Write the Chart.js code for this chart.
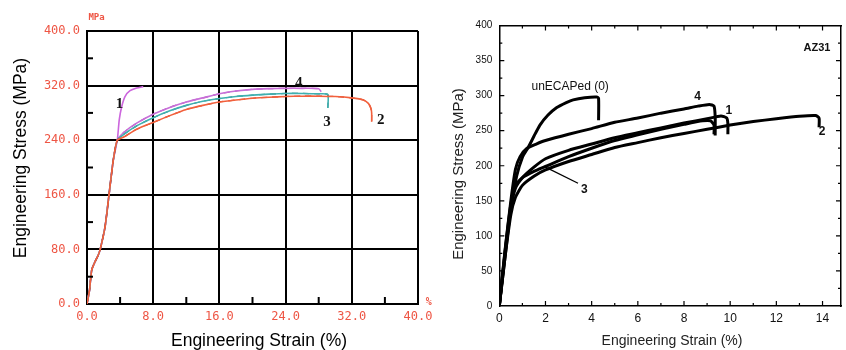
<!DOCTYPE html>
<html><head><meta charset="utf-8">
<script src="https://cdn.jsdelivr.net/npm/chart.js@4"></script>
<style>
html,body{margin:0;padding:0;background:#fff;width:846px;height:350px;overflow:hidden}
#wl{position:absolute;left:0;top:0;width:440px;height:350px}
#wr{position:absolute;left:440px;top:0;width:406px;height:350px}
</style></head><body>
<div id="wl"><canvas id="cl" width="440" height="350"></canvas></div>
<div id="wr"><canvas id="cr" width="406" height="350"></canvas></div>
<script>
// ---------- LEFT PANEL DATA (strain %, stress MPa) ----------
const leftXTicks = [0, 8, 16, 24, 32, 40];
const leftYTicks = [0, 80, 160, 240, 320, 400];
const leftC1Strain = [0, 0.3, 0.57, 0.97, 1.3, 1.57, 2.18, 2.66, 3.18, 3.66, 3.9, 4.19, 4.59, 5.2, 6.0, 6.8];
const leftC1Stress = [0, 20, 50, 62, 70, 79, 113, 160, 211, 240, 270, 289, 304, 312.5, 316.5, 318.5];
const leftC4Strain = [0, 0.3, 0.57, 0.97, 1.3, 1.57, 2.18, 2.66, 3.18, 3.66, 4.5, 6, 8, 10, 12, 14, 16, 18, 20, 22, 24, 26, 28, 28.3];
const leftC4Stress = [0, 20, 50, 62, 70, 79, 113, 160, 211, 240, 252, 265, 278, 288, 296, 302, 308, 312, 314.5, 315.5, 316, 316, 315.5, 311];
const leftC3Strain = [0, 0.3, 0.57, 0.97, 1.3, 1.57, 2.18, 2.66, 3.18, 3.66, 4.5, 6, 8, 10, 12, 14, 16, 18, 20, 22, 24, 26, 28, 29.1, 29.1];
const leftC3Stress = [0, 20, 50, 62, 70, 79, 113, 160, 211, 240, 249, 261, 273, 283, 291, 297, 301, 304, 306, 307.5, 308.5, 308.5, 308, 307, 287];
const leftC2Strain = [0, 0.3, 0.57, 0.97, 1.3, 1.57, 2.18, 2.66, 3.18, 3.66, 4.5, 6, 8, 10, 12, 14, 16, 18, 20, 22, 24, 26, 28, 30, 32, 33.4, 34, 34.3, 34.4, 34.4];
const leftC2Stress = [0, 20, 50, 62, 70, 79, 113, 160, 211, 240, 245, 256, 266, 276, 285, 291, 296, 299, 301.5, 303, 304, 304.5, 304.5, 304, 302, 299, 294, 287, 280, 267];

// ---------- RIGHT PANEL DATA (AZ31) ----------
const rightXTicks = [0, 2, 4, 6, 8, 10, 12, 14];
const rightYTicks = [0, 50, 100, 150, 200, 250, 300, 350, 400];
const r0Strain = [0, 0.25, 0.5, 0.75, 1.0, 1.25, 1.5, 1.76, 2.1, 2.49, 2.9, 3.2, 3.7, 4.22, 4.3, 4.3];
const r0Stress = [0, 70, 140, 185, 212, 226, 242, 258, 272, 283, 290, 294, 297, 298, 296, 265];
const r4Strain = [0, 0.25, 0.5, 0.7, 0.9, 1.2, 1.6, 2, 3, 4, 5, 6, 7, 8, 8.6, 9.1, 9.3, 9.35, 9.35];
const r4Stress = [0, 80, 150, 195, 213, 225, 231, 236, 245, 253, 262, 268, 275, 281, 285, 287.5, 285, 270, 243];
const r1Strain = [0, 0.25, 0.5, 0.7, 1.0, 1.5, 2, 3, 4, 5, 6, 7, 8, 9, 9.6, 9.85, 9.9, 9.9];
const r1Stress = [0, 75, 140, 168, 183, 198, 210, 222, 231, 240, 247, 254, 261, 267, 271, 268, 260, 245];
const r3Strain = [0, 0.25, 0.5, 0.7, 1.0, 1.5, 2, 3, 4, 5, 6, 7, 8, 8.8, 9.15, 9.3, 9.3];
const r3Stress = [0, 78, 145, 172, 183, 192, 199, 213, 225, 236, 244, 252, 259, 264, 264, 258, 245];
const r2Strain = [0, 0.25, 0.5, 0.7, 1.0, 1.5, 2, 3, 4, 5, 6, 7, 8, 9, 10, 11, 12, 13, 13.7, 13.85, 13.85];
const r2Stress = [0, 70, 130, 155, 172, 185, 194, 206, 216, 226, 233, 240, 246, 252, 258, 263, 267, 270.5, 271.5, 268, 255];

const pts = (xs, ys) => xs.map((x, i) => ({ x: x, y: ys[i] }));

const RED = '#ee5544';
const SANS = '"Liberation Sans", Arial, sans-serif';

function line(xs, ys, color, width, dash, tension) {
  return { data: pts(xs, ys), showLine: true, borderColor: color, borderWidth: width,
           borderDash: dash || [], pointRadius: 0, tension: tension || 0, fill: false };
}

function tickList(arr) { return function (scale) { scale.ticks = arr.map(v => ({ value: v })); }; }

// ---------- LEFT CHART ----------
const leftDecor = {
  id: 'leftDecor',
  afterDraw(chart) {
    const ctx = chart.ctx, xs = chart.scales.x, ys = chart.scales.y, a = chart.chartArea;
    ctx.save();
    ctx.strokeStyle = '#000'; ctx.lineWidth = 2;
    [4, 12, 20, 28, 36].forEach(v => { const px = xs.getPixelForValue(v); ctx.beginPath(); ctx.moveTo(px, a.bottom); ctx.lineTo(px, a.bottom - 7); ctx.stroke(); });
    [40, 120, 200, 280, 360].forEach(v => { const py = ys.getPixelForValue(v); ctx.beginPath(); ctx.moveTo(a.left, py); ctx.lineTo(a.left + 6, py); ctx.stroke(); });
    ctx.textAlign = 'center'; ctx.textBaseline = 'middle';
    ctx.fillStyle = '#111'; ctx.font = 'bold 15px "Liberation Serif", serif';
    [['1', 3.93, 293], ['4', 25.6, 323.8], ['3', 29.0, 266.7], ['2', 35.5, 269.6]].forEach(t => ctx.fillText(t[0], xs.getPixelForValue(t[1]), ys.getPixelForValue(t[2])));
    ctx.fillStyle = RED; ctx.font = 'bold 9px "DejaVu Sans Mono", monospace';
    ctx.fillText('MPa', xs.getPixelForValue(1.15), ys.getPixelForValue(419.8));
    ctx.font = 'bold 10px "DejaVu Sans Mono", monospace';
    ctx.fillText('%', xs.getPixelForValue(41.3), ys.getPixelForValue(2.9));
    ctx.fillStyle = '#000'; ctx.font = '17.5px ' + SANS;
    ctx.fillText('Engineering Strain (%)', 259, 341);
    ctx.translate(21, 158); ctx.rotate(-Math.PI / 2);
    ctx.fillText('Engineering Stress (MPa)', 0, 0);
    ctx.restore();
  }
};

new Chart(document.getElementById('cl'), {
  type: 'scatter',
  data: { datasets: [
    line(leftC2Strain, leftC2Stress, '#f2603c', 1.6, null, 0.2),
    line(leftC2Strain, leftC2Stress, '#c8301e', 1.2, [6, 5], 0.2),
    line(leftC3Strain, leftC3Stress, '#3fb0b0', 1.6, null, 0.2),
    line(leftC3Strain, leftC3Stress, '#25706a', 1.2, [6, 5], 0.2),
    line(leftC4Strain, leftC4Stress, '#c86fd8', 1.6, null, 0.2),
    line(leftC4Strain, leftC4Stress, '#9a3aa8', 1.2, [6, 5], 0.2),
    line(leftC1Strain, leftC1Stress, '#cc66dd', 1.6, null, 0.2)
  ] },
  options: {
    responsive: false, animation: false, devicePixelRatio: 1,
    layout: { padding: { left: 0, right: 22, top: 31, bottom: 0 } },
    plugins: { legend: { display: false }, tooltip: { enabled: false } },
    scales: {
      x: { type: 'linear', min: 0, max: 40, afterBuildTicks: tickList(leftXTicks),
           ticks: { color: RED, font: { family: '"DejaVu Sans Mono", monospace', size: 12 }, padding: 6, maxRotation: 0, autoSkip: false, callback: v => v.toFixed(1) },
           grid: { color: '#000', lineWidth: 2, drawTicks: false }, border: { color: '#000', width: 2 },
           afterFit(s) { s.height = 46; } },
      y: { type: 'linear', min: 0, max: 400, afterBuildTicks: tickList(leftYTicks),
           ticks: { color: RED, font: { family: '"DejaVu Sans Mono", monospace', size: 12 }, padding: 7, autoSkip: false, callback: v => v.toFixed(1) },
           grid: { color: '#000', lineWidth: 2, drawTicks: false }, border: { color: '#000', width: 2 },
           afterFit(s) { s.width = 87; } }
    }
  },
  plugins: [leftDecor]
});

// ---------- RIGHT CHART ----------
const rightDecor = {
  id: 'rightDecor',
  afterDraw(chart) {
    const ctx = chart.ctx, xs = chart.scales.x, ys = chart.scales.y, a = chart.chartArea;
    ctx.save();
    ctx.strokeStyle = '#000'; ctx.lineWidth = 1.2;
    for (let v = 1; v <= 14; v++) {
      const px = xs.getPixelForValue(v), L = v % 2 === 0 ? 5 : 3;
      ctx.beginPath(); ctx.moveTo(px, a.bottom); ctx.lineTo(px, a.bottom - L);
      ctx.moveTo(px, a.top); ctx.lineTo(px, a.top + L); ctx.stroke();
    }
    for (let v = 25; v < 400; v += 25) {
      const py = ys.getPixelForValue(v), L = v % 50 === 0 ? 5 : 3;
      ctx.beginPath(); ctx.moveTo(a.left, py); ctx.lineTo(a.left + L, py);
      ctx.moveTo(a.right, py); ctx.lineTo(a.right - L, py); ctx.stroke();
    }
    // leader line for label 3
    ctx.lineWidth = 1.3;
    ctx.beginPath(); ctx.moveTo(xs.getPixelForValue(1.98), ys.getPixelForValue(198.3));
    ctx.lineTo(xs.getPixelForValue(3.41), ys.getPixelForValue(175)); ctx.stroke();
    ctx.textAlign = 'center'; ctx.textBaseline = 'middle'; ctx.fillStyle = '#111';
    ctx.font = '12px ' + SANS;
    ctx.fillText('unECAPed (0)', xs.getPixelForValue(3.07), ys.getPixelForValue(313));
    ctx.font = 'bold 12px ' + SANS;
    [['4', 8.59, 299], ['1', 9.94, 279], ['2', 13.98, 249], ['3', 3.68, 166.5]].forEach(t => ctx.fillText(t[0], xs.getPixelForValue(t[1]), ys.getPixelForValue(t[2])));
    ctx.font = 'bold 11px ' + SANS;
    ctx.fillText('AZ31', xs.getPixelForValue(13.76), ys.getPixelForValue(368));
    ctx.font = '14px ' + SANS; ctx.fillStyle = '#222';
    ctx.fillText('Engineering Strain (%)', 232, 341);
    ctx.translate(19, 174); ctx.rotate(-Math.PI / 2);
    ctx.font = '15px ' + SANS;
    ctx.fillText('Engineering Stress (MPa)', 0, 0);
    ctx.restore();
  }
};

new Chart(document.getElementById('cr'), {
  type: 'scatter',
  data: { datasets: [
    line(r2Strain, r2Stress, '#000', 3, null, 0.2),
    line(r3Strain, r3Stress, '#000', 3, null, 0.2),
    line(r1Strain, r1Stress, '#000', 3, null, 0.2),
    line(r4Strain, r4Stress, '#000', 3, null, 0.2),
    line(r0Strain, r0Stress, '#000', 3, null, 0.2)
  ] },
  options: {
    responsive: false, animation: false, devicePixelRatio: 1,
    layout: { padding: { left: 0, right: 5, top: 25.5, bottom: 0 } },
    plugins: { legend: { display: false }, tooltip: { enabled: false } },
    scales: {
      x: { type: 'linear', min: 0, max: 14.8, afterBuildTicks: tickList(rightXTicks),
           ticks: { color: '#111', font: { family: SANS, size: 12 }, padding: 5, maxRotation: 0, autoSkip: false },
           grid: { display: false, drawTicks: false }, border: { color: '#000', width: 1.5 },
           afterFit(s) { s.height = 44; } },
      y: { type: 'linear', min: 0, max: 400, afterBuildTicks: tickList(rightYTicks),
           ticks: { color: '#111', font: { family: SANS, size: 10 }, padding: 7, autoSkip: false },
           grid: { display: false, drawTicks: false }, border: { color: '#000', width: 1.5 },
           afterFit(s) { s.width = 59.3; } },
      x2: { type: 'linear', position: 'top', min: 0, max: 14.8, display: true,
            ticks: { display: false }, grid: { display: false, drawTicks: false }, border: { color: '#000', width: 1.5 },
            afterFit(s) { s.height = 0; } },
      y2: { type: 'linear', position: 'right', min: 0, max: 400, display: true,
            ticks: { display: false }, grid: { display: false, drawTicks: false }, border: { color: '#000', width: 1.5 },
            afterFit(s) { s.width = 0; } }
    }
  },
  plugins: [rightDecor]
});
</script>
</body></html>
